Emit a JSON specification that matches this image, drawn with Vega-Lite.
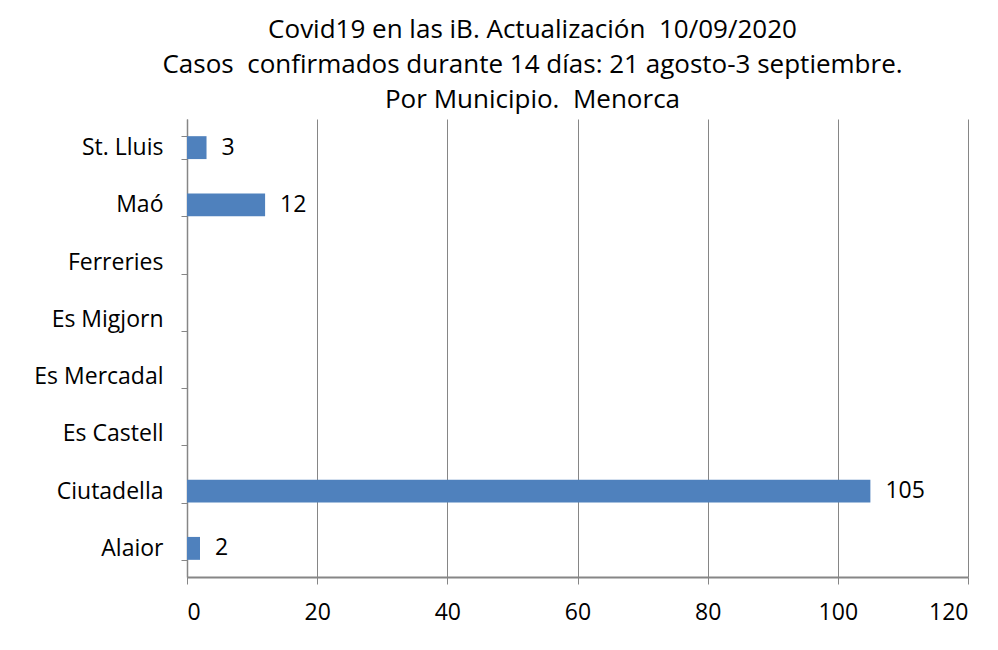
{
  "$schema": "https://vega.github.io/schema/vega-lite/v6.json",
  "width": 781,
  "height": 458,
  "autosize": {"type": "none"},
  "padding": {"left": 187, "top": 119, "right": 30, "bottom": 73},
  "background": "white",
  "config": {"view": {"stroke": null}, "font": "Open Sans"},
  "title": {
    "text": ["Covid19 en las iB. Actualización\u00a0 10/09/2020", "Casos\u00a0 confirmados durante 14 días: 21 agosto-3 septiembre.", "Por Municipio.\u00a0 Menorca"],
    "font": "Open Sans",
    "fontSize": 26,
    "fontWeight": "normal",
    "color": "black",
    "anchor": "middle",
    "lineHeight": 35,
    "offset": -5,
    "dx": -45
  },
  "data": {
    "values": [
      {"municipio": "St. Lluis", "casos": 3},
      {"municipio": "Maó", "casos": 12},
      {"municipio": "Ferreries", "casos": null},
      {"municipio": "Es Migjorn", "casos": null},
      {"municipio": "Es Mercadal", "casos": null},
      {"municipio": "Es Castell", "casos": null},
      {"municipio": "Ciutadella", "casos": 105},
      {"municipio": "Alaior", "casos": 2}
    ]
  },
  "encoding": {
    "y": {
      "field": "municipio",
      "type": "nominal",
      "scale": {
        "domain": ["St. Lluis", "Maó", "Ferreries", "Es Migjorn", "Es Mercadal", "Es Castell", "Ciutadella", "Alaior"],
        "paddingInner": 0.6,
        "paddingOuter": 0.3
      },
      "axis": {
        "title": null,
        "tickBand": "extent",
        "tickSize": 6,
        "tickColor": "#868686",
        "domainColor": "#868686",
        "domainWidth": 1.5,
        "labelFont": "Open Sans",
        "labelFontSize": 23,
        "labelColor": "black",
        "labelPadding": 18,
        "grid": false
      }
    },
    "x": {
      "field": "casos",
      "type": "quantitative",
      "scale": {"domain": [0, 120], "nice": false},
      "axis": {
        "title": null,
        "values": [0, 20, 40, 60, 80, 100, 120],
        "grid": true,
        "gridColor": "#868686",
        "gridWidth": 1,
        "tickSize": 7,
        "tickColor": "#868686",
        "domainColor": "#868686",
        "domainWidth": 2,
        "labelFont": "Open Sans",
        "labelFontSize": 23,
        "labelColor": "black",
        "labelPadding": 17
      }
    }
  },
  "layer": [
    {"mark": {"type": "bar", "color": "#4F81BD"}},
    {
      "mark": {"type": "text", "align": "left", "baseline": "middle", "dx": 15, "fontSize": 23, "font": "Open Sans", "color": "black"},
      "encoding": {"text": {"field": "casos", "type": "quantitative"}}
    }
  ]
}
